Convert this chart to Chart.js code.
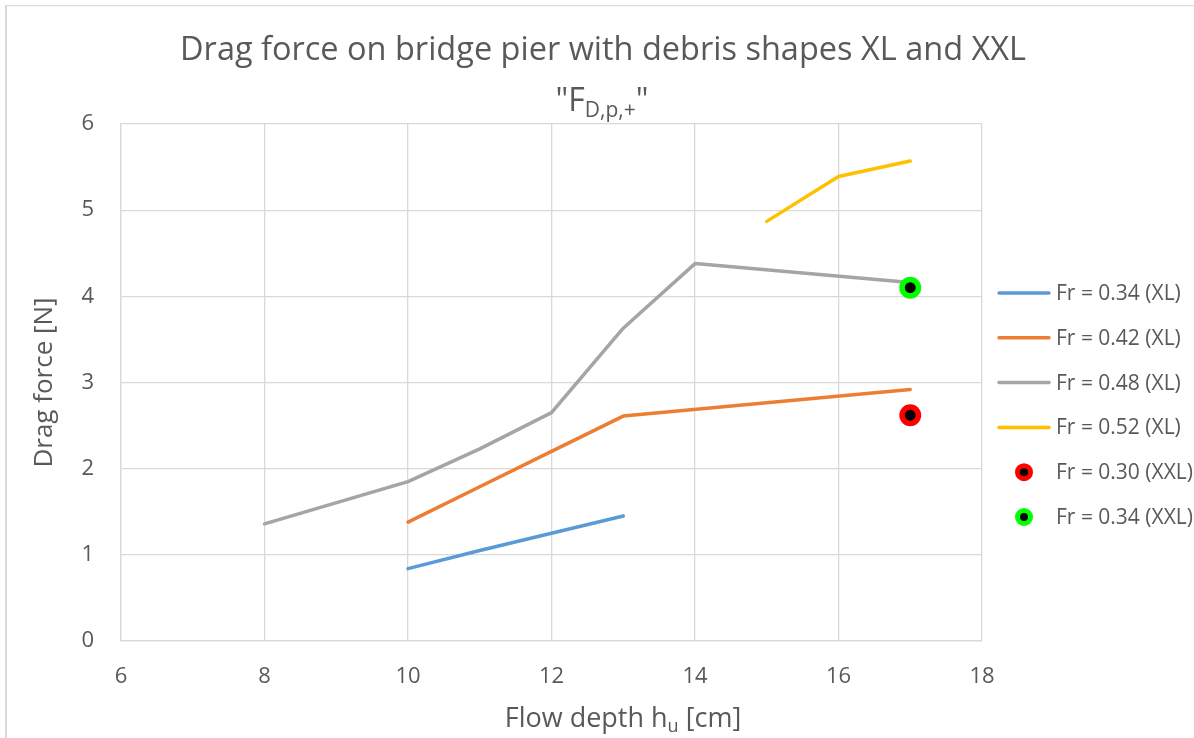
<!DOCTYPE html>
<html>
<head>
<meta charset="utf-8">
<script src="https://cdn.jsdelivr.net/npm/chart.js@4/dist/chart.umd.min.js"></script>
<style>
  html, body { margin: 0; padding: 0; background: #ffffff; }
  #wrap { width: 1194px; height: 738px; }
</style>
</head>
<body>
<div id="wrap"><canvas id="chart" width="1194" height="738"></canvas></div>
<script>
// Flow depth h_u [cm] and drag force [N] per Froude number
const depthFr034XL = [10, 11, 12, 13];
const forceFr034XL = [0.84, 1.05, 1.25, 1.45];

const depthFr042XL = [10, 11, 12, 13, 17];
const forceFr042XL = [1.38, 1.79, 2.20, 2.61, 2.92];

const depthFr048XL = [8, 10, 11, 12, 13, 14, 17];
const forceFr048XL = [1.36, 1.85, 2.23, 2.65, 3.63, 4.38, 4.16];

const depthFr052XL = [15, 16, 17];
const forceFr052XL = [4.87, 5.39, 5.57];

const depthFr030XXL = [17];
const forceFr030XXL = [2.62];

const depthFr034XXL = [17];
const forceFr034XXL = [4.10];

const seriesLabels = [
  'Fr = 0.34 (XL)', 'Fr = 0.42 (XL)', 'Fr = 0.48 (XL)', 'Fr = 0.52 (XL)',
  'Fr = 0.30 (XXL)', 'Fr = 0.34 (XXL)'
];
const xTickValues = [6, 8, 10, 12, 14, 16, 18];
const yTickValues = [0, 1, 2, 3, 4, 5, 6];

const FONT = "'Open Sans', 'DejaVu Sans', sans-serif";
const TEXT = '#595959';
const GRID = '#d9d9d9';
const lineColors = ['#5b9bd5', '#ed7d31', '#a5a5a5', '#ffc000'];
const markerColors = ['#ff0000', '#00ff00'];

function pts(xs, ys) { return xs.map((x, i) => ({ x: x, y: ys[i] })); }

function lineSet(label, xs, ys, color) {
  return {
    label, data: pts(xs, ys), showLine: true,
    borderColor: color, backgroundColor: color, borderWidth: 3.5,
    borderCapStyle: 'round', borderJoinStyle: 'round',
    pointRadius: 0, pointHoverRadius: 0, order: 1, kind: 'line'
  };
}
function markerSet(label, xs, ys, color) {
  return {
    label, data: pts(xs, ys), showLine: false,
    pointRadius: 8.2, pointBorderWidth: 5.5, pointHoverRadius: 8.2,
    pointBackgroundColor: '#000000', pointBorderColor: color,
    borderColor: color, backgroundColor: '#000000', order: 0, kind: 'marker'
  };
}

const datasets = [
  lineSet(seriesLabels[0], depthFr034XL, forceFr034XL, lineColors[0]),
  lineSet(seriesLabels[1], depthFr042XL, forceFr042XL, lineColors[1]),
  lineSet(seriesLabels[2], depthFr048XL, forceFr048XL, lineColors[2]),
  lineSet(seriesLabels[3], depthFr052XL, forceFr052XL, lineColors[3]),
  markerSet(seriesLabels[4], depthFr030XXL, forceFr030XXL, markerColors[0]),
  markerSet(seriesLabels[5], depthFr034XXL, forceFr034XXL, markerColors[1])
];

// Text made of normal and subscript runs, centred on (cx, cy)
function drawRichText(ctx, runs, cx, cy, size) {
  const subSize = Math.round(size * 0.66);
  let total = 0;
  const widths = runs.map(r => {
    ctx.font = (r.sub ? subSize : size) + 'px ' + FONT;
    const w = ctx.measureText(r.t).width;
    total += w;
    return w;
  });
  let x = cx - total / 2;
  ctx.textAlign = 'left';
  ctx.textBaseline = 'alphabetic';
  const base = cy + size * 0.36;
  runs.forEach((r, i) => {
    ctx.font = (r.sub ? subSize : size) + 'px ' + FONT;
    ctx.fillText(r.t, x, r.sub ? base + size * 0.2 : base);
    x += widths[i];
  });
}

const framePlugin = {
  id: 'frame',
  beforeDraw(chart) {
    const ctx = chart.ctx;
    ctx.save();
    ctx.fillStyle = '#ffffff';
    ctx.fillRect(0, 0, chart.width, chart.height);
    ctx.fillStyle = GRID;
    ctx.fillRect(5, 5, chart.width - 5, 1.2);
    ctx.fillRect(5, 5, 2, chart.height - 5);
    ctx.restore();
  },
  afterDraw(chart) {
    const ctx = chart.ctx;
    const area = chart.chartArea;
    ctx.save();
    ctx.fillStyle = TEXT;
    // chart title, two lines
    drawRichText(ctx, [{ t: 'Drag force on bridge pier with debris shapes XL and XXL' }], 603, 48, 32.5);
    drawRichText(ctx, [{ t: '"F' }, { t: 'D,p,+', sub: true }, { t: '"' }], 602, 99, 32);
    // x axis title
    drawRichText(ctx, [{ t: 'Flow depth h' }, { t: 'u', sub: true }, { t: ' [cm]' }], 623, 717, 27);

    // legend
    const lx = area.right + 16, len = 52, tx = lx + 58;
    const y0 = area.top + 169, step = 44.8;
    chart.data.datasets.forEach((ds, i) => {
      const y = y0 + i * step;
      if (ds.kind === 'line') {
        ctx.strokeStyle = ds.borderColor;
        ctx.lineWidth = 3.5;
        ctx.lineCap = 'round';
        ctx.beginPath();
        ctx.moveTo(lx + 1, y);
        ctx.lineTo(lx + len - 1, y);
        ctx.stroke();
      } else {
        ctx.beginPath();
        ctx.arc(lx + len / 2, y, 6.5, 0, Math.PI * 2);
        ctx.fillStyle = '#000000';
        ctx.fill();
        ctx.lineWidth = 5;
        ctx.strokeStyle = ds.pointBorderColor;
        ctx.stroke();
      }
      ctx.fillStyle = TEXT;
      ctx.font = '21px ' + FONT;
      ctx.textAlign = 'left';
      ctx.textBaseline = 'middle';
      ctx.fillText(ds.label, tx, y + 1);
    });
    ctx.restore();
  }
};

new Chart(document.getElementById('chart'), {
  type: 'scatter',
  data: { datasets },
  plugins: [framePlugin],
  options: {
    responsive: false,
    animation: false,
    devicePixelRatio: 1,
    events: [],
    layout: { padding: { top: 124, right: 212, bottom: 0, left: 0 } },
    plugins: { legend: { display: false }, title: { display: false }, tooltip: { enabled: false } },
    scales: {
      x: {
        type: 'linear', min: xTickValues[0], max: xTickValues[xTickValues.length - 1],
        afterBuildTicks: s => { s.ticks = xTickValues.map(v => ({ value: v })); },
        afterFit: s => { s.height = 97; },
        ticks: { color: TEXT, font: { family: FONT, size: 22 }, padding: 23 },
        grid: { color: GRID, lineWidth: 1.3, drawTicks: false },
        border: { color: GRID, width: 1.3 }
      },
      y: {
        type: 'linear', min: yTickValues[0], max: yTickValues[yTickValues.length - 1],
        afterBuildTicks: s => { s.ticks = yTickValues.map(v => ({ value: v })); },
        afterFit: s => { s.width = 121; },
        ticks: { color: TEXT, font: { family: FONT, size: 22 }, padding: 27 },
        grid: { color: GRID, lineWidth: 1.3, drawTicks: false },
        border: { color: GRID, width: 1.3 },
        title: { display: true, text: 'Drag force [N]', color: TEXT,
                 font: { family: FONT, size: 26 }, padding: { top: 29, bottom: 0 } }
      }
    }
  }
});
</script>
</body>
</html>
